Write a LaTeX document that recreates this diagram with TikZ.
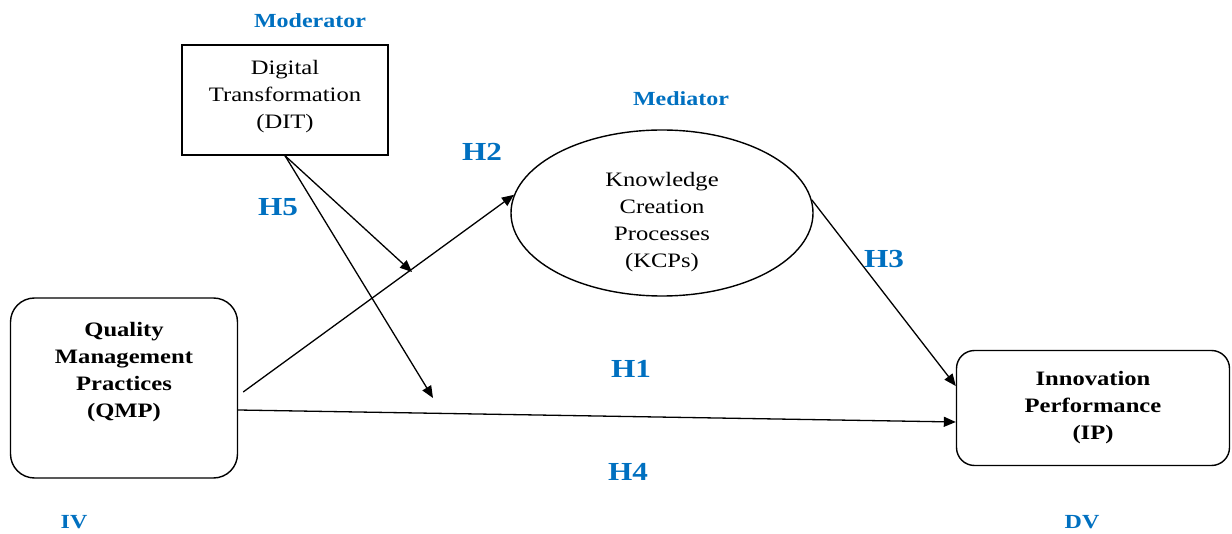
\documentclass[tikz,border=0pt]{standalone}
\usepackage{fontspec}
\setmainfont{Liberation Serif}[FakeStretch=1.2]
\usetikzlibrary{arrows.meta,positioning,shapes.geometric}

\definecolor{hypblue}{RGB}{0,112,192}

\begin{document}
\begin{tikzpicture}[
  x=1pt,y=-1pt,
  font=\fontsize{20.5}{27}\selectfont,
  construct/.style={
    draw=black,
    line width=1.4pt,
    align=center,
    inner sep=0pt
  },
  path arrow/.style={
    -{Triangle[length=12pt,width=10pt]},
    draw=black,
    line width=1.3pt
  },
  hyp label/.style={
    text=hypblue,
    font=\fontsize{26}{30}\selectfont\bfseries
  },
  role label/.style={
    text=hypblue,
    font=\fontsize{20}{24}\selectfont\bfseries
  }
]
\useasboundingbox (0,0) rectangle (1232,534);

\node[construct,minimum width=206pt,minimum height=110pt] (dit) at (285,100)
  {Digital\\Transformation\\(DIT)\\[-16pt]\mbox{}};

\node[construct,ellipse,minimum width=302pt,minimum height=166pt] (kcp) at (662,213)
  {\strut\\[-14pt]Knowledge\\Creation\\Processes\\(KCPs)};

\node[construct,rounded corners=24pt,minimum width=227pt,minimum height=180pt,
  font=\fontsize{20.5}{27}\selectfont\bfseries] (qmp) at (124,388)
  {Quality\\Management\\Practices\\(QMP)\\[10pt]\mbox{}};

\node[construct,rounded corners=18pt,minimum width=273pt,minimum height=115pt,
  font=\fontsize{20.5}{27}\selectfont\bfseries] (ip) at (1093,408)
  {Innovation\\Performance\\(IP)};

% role labels
\node[role label] (moderator) at (310,21) {Moderator};
\node[role label] (mediator) at (681,99) {Mediator};
\node[role label] (iv) at (74,522) {IV};
\node[role label] (dv) at (1082,522) {DV};

% hypotheses
\node[hyp label] (h2) at (482,152) {H2};
\node[hyp label] (h5) at (278,207) {H5};
\node[hyp label] (h3) at (884,259) {H3};
\node[hyp label] (h1) at (631,369) {H1};
\node[hyp label] (h4) at (628,472) {H4};

% moderation targets
\coordinate (mod-a) at (412,272);
\coordinate (mod-b) at (433,398);

\draw[path arrow] ([shift={(5pt,-4pt)}]qmp.east) -- (kcp.173);
\draw[path arrow] ([yshift=-22pt]qmp.east) -- ([yshift=-14pt]ip.west);
\draw[path arrow] (kcp.5) -- ([yshift=22pt]ip.west);
\draw[path arrow] (dit.south) -- (mod-a);
\draw[path arrow] (dit.south) -- (mod-b);

\end{tikzpicture}
\end{document}
